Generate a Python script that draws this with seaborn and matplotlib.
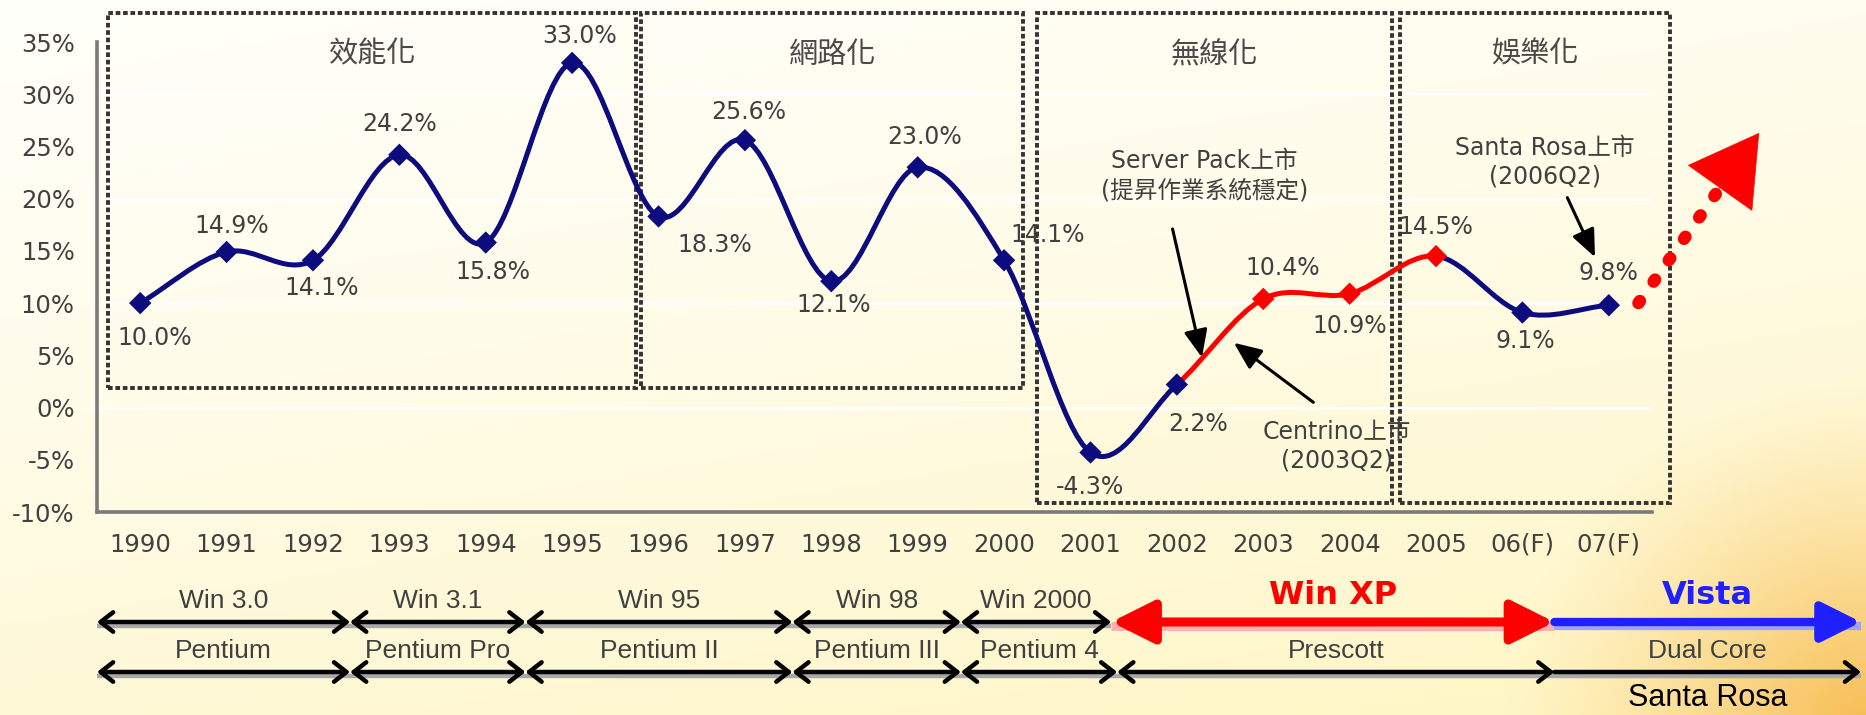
import numpy as np
import pandas as pd
import matplotlib
matplotlib.use('Agg')
import matplotlib.pyplot as plt
from matplotlib.path import Path
from matplotlib.patches import PathPatch, Rectangle
import seaborn as sns

# ---- data ----
years = ['1990', '1991', '1992', '1993', '1994', '1995', '1996', '1997', '1998',
         '1999', '2000', '2001', '2002', '2003', '2004', '2005', '06(F)', '07(F)']
growth = [10.0, 14.9, 14.1, 24.2, 15.8, 33.0, 18.3, 25.6, 12.1,
          23.0, 14.1, -4.3, 2.2, 10.4, 10.9, 14.5, 9.1, 9.8]
red_years = ['2003', '2004', '2005']
red_from, red_to = '2002', '2005'
trend_x = [17.3, 18.74]      # projected trend arrow (category index)
trend_y = [9.5, 26.3]

eras = ['效能化', '網路化', '無線化', '娛樂化']
os_names = ['Win 3.0', 'Win 3.1', 'Win 95', 'Win 98', 'Win 2000', 'Win XP', 'Vista']
os_bounds = [-0.5, 2.43, 4.46, 7.55, 9.5, 11.24, 16.37, 19.92]
cpu_names = ['Pentium', 'Pentium Pro', 'Pentium II', 'Pentium III', 'Pentium 4', 'Prescott', 'Dual Core']
cpu_bounds = [-0.5, 2.43, 4.46, 7.55, 9.5, 11.31, 16.37, 19.92]

notes = ['Server Pack上市\n(提昇作業系統穩定)', 'Centrino上市\n(2003Q2)', 'Santa Rosa上市\n(2006Q2)']

# ---- layout ----
W, H = 1866, 715
NAVY = '#0c0c7e'
RED = '#ff0000'
GRAY_TXT = '#404040'
era_boxes = [(-0.37, 5.74, 1.9), (5.80, 10.22, 1.9), (10.38, 14.49, -9.1), (14.58, 17.71, -9.1)]
box_top = 37.8
# label offsets in px (dx, dy) from each point
lab_off = [(15, -35), (5, 26), (9, -28), (0, 31), (7, -29), (7, 27), (56, -29), (4, 28), (2, -24),
           (7, 30), (44, 25), (0, -35), (21, -39), (20, 31), (0, -32), (0, 29), (3, -28), (0, 32)]
note_txt_pos = [(12.32, 22.2), (13.85, -3.7), (16.26, 23.5)]
note_arrows = [((11.95, 17.1), (12.29, 4.8)), ((13.58, 0.5), (12.66, 6.2)), ((16.52, 20.1), (16.84, 14.4))]

sns.set_theme(style='white')
plt.rcParams['font.family'] = ['DejaVu Sans', 'Noto Sans CJK TC']
plt.rcParams['axes.unicode_minus'] = False

fig = plt.figure(figsize=(W / 100, H / 100), dpi=100)

# background gradient
bg = fig.add_axes([0, 0, 1, 1], zorder=0)
gx, gy = np.meshgrid(np.linspace(0, 1, 500), np.linspace(0, 1, 200))
t = np.clip(0.3 * gx + 0.7 * gy, 0, 1)
c0 = np.array([1.0, 1.0, 0.975])
c1 = np.array([1.0, 0.96, 0.76])
img = c0 + (c1 - c0) * (t[..., None] ** 1.4)
d = np.hypot((gx - 1) * W, (gy - 1.02) * H)
glow = np.clip(1 - d / 360, 0, 1) ** 1.3
img = img + (np.array([0.97, 0.74, 0.33]) - img) * glow[..., None]
bg.imshow(img, aspect='auto', extent=[0, 1, 0, 1], origin='upper')
bg.set_xlim(0, 1)
bg.set_ylim(0, 1)
bg.axis('off')

L, R = 97 / W, 1652 / W
ax = fig.add_axes([L, 1 - 512 / H, R - L, (512 - 42) / H], zorder=2)
ax.patch.set_alpha(0)

idx = np.arange(len(years))
df = pd.DataFrame({'idx': idx, 'growth': growth,
                   'seg': ['red' if y in red_years else 'navy' for y in years]})

for v in [0, 10, 20, 30]:
    ax.axhline(v, color='white', lw=2, zorder=1)


def smooth_path(x, y, a, b):
    P = np.column_stack([x, y]).astype(float)
    T = np.zeros_like(P)
    T[1:-1] = (P[2:] - P[:-2]) / 2
    T[0] = P[1] - P[0]
    T[-1] = P[-1] - P[-2]
    verts = [P[a]]
    codes = [Path.MOVETO]
    for i in range(a, b):
        verts += [P[i] + T[i] / 3, P[i + 1] - T[i + 1] / 3, P[i + 1]]
        codes += [Path.CURVE4] * 3
    return Path(verts, codes)


ra, rb = years.index(red_from), years.index(red_to)
for a, b, c in [(0, ra, NAVY), (ra, rb, RED), (rb, len(years) - 1, NAVY)]:
    ax.add_patch(PathPatch(smooth_path(idx, growth, a, b), fill=False, ec=c, lw=3.6,
                           capstyle='round', zorder=4))

sns.scatterplot(data=df, x='idx', y='growth', hue='seg', palette={'navy': NAVY, 'red': RED},
                marker='D', s=130, linewidth=0, legend=False, ax=ax, zorder=5)

for i, v in enumerate(growth):
    dx, dy = lab_off[i]
    ax.annotate(f'{v:.1f}%', (i, v), xytext=(dx * 0.72, dy * 0.72), textcoords='offset points',
                ha='center', va='center', fontsize=17, color=GRAY_TXT, zorder=6)

# trend arrow
tx, ty = np.array(trend_x), np.array(trend_y)


def along(f):
    return (tx[0] + (tx[1] - tx[0]) * f, ty[0] + (ty[1] - ty[0]) * f)


p0, p1 = along(0.03), along(0.66)
ax.plot([p0[0], p1[0]], [p0[1], p1[1]], color=RED, lw=9, linestyle=(0, (0.2, 1.9)),
        dash_capstyle='round', clip_on=False, zorder=5)
ax.annotate('', xy=along(1.0), xytext=along(0.68),
            arrowprops=dict(arrowstyle='-|>,head_length=2.4,head_width=1.4', color=RED, lw=0.5,
                            shrinkA=0, shrinkB=0, mutation_scale=20),
            annotation_clip=False, zorder=5)

# era boxes
for (x0, x1, y0), name in zip(era_boxes, eras):
    ax.add_patch(Rectangle((x0, y0), x1 - x0, box_top - y0, fill=False, ec='#333333', lw=2.8,
                           ls=(0, (1.2, 0.7)), clip_on=False, zorder=3))
    ax.text((x0 + x1) / 2, 33.8, name, ha='center', va='center', fontsize=21, color='#4a4a4a')

# callouts
for txt, (px, py), (s, e) in zip(notes, note_txt_pos, note_arrows):
    ax.text(px, py, txt, ha='center', va='center', fontsize=17, color=GRAY_TXT,
            linespacing=1.25, zorder=6)
    ax.annotate('', xy=e, xytext=s,
                arrowprops=dict(arrowstyle='-|>,head_length=1.4,head_width=0.6', color='black',
                                lw=2.2, shrinkA=0, shrinkB=0),
                annotation_clip=False, zorder=6)

ax.set_xlim(-0.5, 17.5)
ax.set_ylim(-10, 35)
ax.set_xlabel('')
ax.set_ylabel('')
ax.set_xticks(idx)
ax.set_xticklabels(years)
ax.set_xticks(np.arange(-0.5, 18, 1), minor=True)
ax.tick_params(axis='x', which='major', length=0, pad=15, labelsize=17.5, labelcolor=GRAY_TXT)
ax.tick_params(axis='x', which='minor', direction='in', length=7, width=2, color='#404040')
yt = list(range(-10, 36, 5))
ax.set_yticks(yt)
ax.set_yticklabels([f'{v}%' for v in yt])
ax.tick_params(axis='y', direction='in', length=6, width=2.5, color='black', pad=16,
               labelsize=17.5, labelcolor=GRAY_TXT)
for s in ['top', 'right']:
    ax.spines[s].set_visible(False)
for s in ['left', 'bottom']:
    ax.spines[s].set_color('#7a7a7a')
    ax.spines[s].set_linewidth(2.6)

# timeline rows (y in px from top)
ov = fig.add_axes([L, 0, R - L, 1], sharex=ax, zorder=3)
ov.patch.set_alpha(0)
ov.set_ylim(H, 0)
ov.axis('off')


def span(x0, x1, y, color, lw, style, ms, shadow):
    ov.plot([x0, x1], [y + 4, y + 4], color=shadow, lw=lw, solid_capstyle='butt', clip_on=False)
    ov.annotate('', xy=(x1, y), xytext=(x0, y),
                arrowprops=dict(arrowstyle=style, color=color, lw=lw, shrinkA=0, shrinkB=0,
                                mutation_scale=ms),
                annotation_clip=False)


black_style = '<->,head_length=0.9,head_width=0.7'
for i, name in enumerate(os_names):
    x0, x1 = os_bounds[i], os_bounds[i + 1]
    xm = (x0 + x1) / 2
    if name == 'Win XP':
        span(x0, x1, 622, RED, 6.5, '<|-|>,head_length=1.3,head_width=0.65', 20, '#ffb0b0')
        ov.text(xm, 596, name, ha='center', va='center', fontsize=23, fontweight='bold', color=RED)
    elif name == 'Vista':
        span(x0, x1, 622, '#1f1fff', 6.0, '-|>,head_length=1.2,head_width=0.6', 20, '#a0a0ff')
        ov.text(xm, 596, name, ha='center', va='center', fontsize=23, fontweight='bold', color='#2020ff')
    else:
        span(x0, x1, 622, 'black', 3.2, black_style, 10, '#a8a8a8')
        ov.text(xm, 601, name, ha='center', va='center', fontsize=19, color=GRAY_TXT,
                family='Liberation Sans')

for i, name in enumerate(cpu_names):
    x0, x1 = cpu_bounds[i], cpu_bounds[i + 1]
    xm = (x0 + x1) / 2
    style = '->,head_length=0.9,head_width=0.7' if name == 'Dual Core' else black_style
    span(x0, x1, 672, 'black', 3.2, style, 10, '#a8a8a8')
    ov.text(xm, 651, name, ha='center', va='center', fontsize=19, color=GRAY_TXT,
            family='Liberation Sans')
    if name == 'Dual Core':
        ov.text(xm, 698, 'Santa Rosa', ha='center', va='center', fontsize=22, color='black',
                family='Liberation Sans')

fig.savefig('out.png', dpi=100)
